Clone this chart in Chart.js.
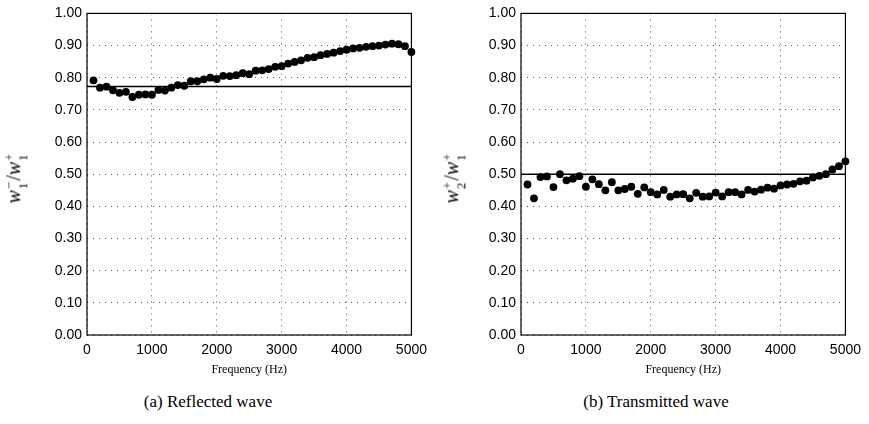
<!DOCTYPE html>
<html>
<head>
<meta charset="utf-8">
<script src="https://cdn.jsdelivr.net/npm/chart.js@4.4.0/dist/chart.umd.min.js"></script>
<style>
  body { margin: 0; background: #fff; width: 869px; height: 424px; position: relative; overflow: hidden; }
  .box { position: absolute; top: 0; width: 404px; height: 380px; }
  .ylab {
    position: absolute; top: 178px;
    font-family: "Liberation Serif", serif; font-size: 20px; color: #000;
    transform: translate(-50%, -50%) rotate(-90deg); white-space: nowrap;
  }
  .ylab i { font-style: italic; }
  .ss { display: inline-flex; flex-direction: column; vertical-align: middle; font-size: 13px; line-height: 1.05; margin: 0 1px; }
  .cap {
    position: absolute; top: 392px; transform: translateX(-50%);
    font-family: "Liberation Serif", serif; font-size: 17px; color: #000; white-space: nowrap;
  }
</style>
</head>
<body>
<div class="box" style="left:30px"><canvas id="chartA"></canvas></div>
<div class="box" style="left:464px"><canvas id="chartB"></canvas></div>

<div class="ylab" style="left:16px"><i>w</i><span class="ss"><span>&minus;</span><span>1</span></span>/<i>w</i><span class="ss"><span>+</span><span>1</span></span></div>
<div class="ylab" style="left:454px"><i>w</i><span class="ss"><span>+</span><span>2</span></span>/<i>w</i><span class="ss"><span>+</span><span>1</span></span></div>

<div class="cap" style="left:208px">(a) Reflected wave</div>
<div class="cap" style="left:656px">(b) Transmitted wave</div>

<script>
// Frequencies (Hz)
const freqs = [100, 200, 300, 400, 500, 600, 700, 800, 900, 1000,
  1100, 1200, 1300, 1400, 1500, 1600, 1700, 1800, 1900, 2000,
  2100, 2200, 2300, 2400, 2500, 2600, 2700, 2800, 2900, 3000,
  3100, 3200, 3300, 3400, 3500, 3600, 3700, 3800, 3900, 4000,
  4100, 4200, 4300, 4400, 4500, 4600, 4700, 4800, 4900, 5000];

// (a) reflected wave ratio
const reflected = [0.792, 0.769, 0.772, 0.761, 0.753, 0.756, 0.740, 0.747, 0.748, 0.747,
  0.762, 0.760, 0.769, 0.777, 0.775, 0.789, 0.789, 0.795, 0.800, 0.796,
  0.806, 0.805, 0.808, 0.814, 0.811, 0.822, 0.823, 0.827, 0.834, 0.836,
  0.844, 0.849, 0.854, 0.862, 0.864, 0.870, 0.874, 0.878, 0.883, 0.887,
  0.891, 0.893, 0.896, 0.898, 0.900, 0.903, 0.906, 0.904, 0.898, 0.880];

// (b) transmitted wave ratio
const transmitted = [0.468, 0.425, 0.491, 0.493, 0.460, 0.500, 0.481, 0.486, 0.494, 0.461,
  0.484, 0.469, 0.450, 0.475, 0.450, 0.454, 0.461, 0.439, 0.459, 0.444,
  0.437, 0.451, 0.430, 0.437, 0.438, 0.425, 0.442, 0.430, 0.431, 0.443,
  0.431, 0.444, 0.444, 0.437, 0.451, 0.446, 0.452, 0.458, 0.455, 0.465,
  0.468, 0.470, 0.478, 0.480, 0.490, 0.495, 0.500, 0.515, 0.525, 0.540];

// reference levels (solid horizontal lines)
const reflectedLevel = 0.773;
const transmittedLevel = 0.500;

const xTicks = [0, 1000, 2000, 3000, 4000, 5000];

Chart.defaults.font.family = "'Liberation Sans', Arial, sans-serif";
Chart.defaults.font.size = 14;
Chart.defaults.color = "#000";

// box around the plotting area
const frame = {
  id: "frame",
  beforeDatasetsDraw(chart) {
    const { ctx, chartArea: a } = chart;
    ctx.save();
    ctx.strokeStyle = "#000";
    ctx.lineWidth = 1.2;
    ctx.strokeRect(a.left, a.top, a.right - a.left, a.bottom - a.top);
    ctx.restore();
  }
};

function makeChart(id, values, level) {
  const ctx = document.getElementById(id).getContext("2d");
  return new Chart(ctx, {
    type: "scatter",
    data: {
      datasets: [
        {
          type: "line",
          data: [{ x: xTicks[0], y: level }, { x: xTicks[xTicks.length - 1], y: level }],
          borderColor: "#000",
          borderWidth: 1.5,
          pointRadius: 0,
          clip: false
        },
        {
          data: freqs.map((f, i) => ({ x: f, y: values[i] })),
          backgroundColor: "#000",
          borderColor: "#000",
          pointRadius: 3.9,
          pointBorderWidth: 0,
          clip: false
        }
      ]
    },
    options: {
      responsive: true,
      maintainAspectRatio: false,
      animation: false,
      layout: { padding: { top: 13, right: 12, bottom: 3, left: 0 } },
      plugins: { legend: { display: false }, tooltip: { enabled: false } },
      scales: {
        x: {
          type: "linear",
          min: 0,
          max: 5000,
          afterBuildTicks: s => { s.ticks = xTicks.map(v => ({ value: v })); },
          afterFit: s => { s.height = 42; },
          ticks: { padding: 7, maxRotation: 0, callback: v => String(v) },
          grid: { color: "#555", lineWidth: 1, drawTicks: false },
          border: { display: false, dash: [1, 5] },
          title: {
            display: true,
            text: "Frequency (Hz)",
            font: { family: "'Liberation Serif', serif", size: 12 },
            padding: { top: 1, bottom: 0 }
          }
        },
        y: {
          min: 0,
          max: 1,
          afterFit: s => { s.width = 57; },
          ticks: { stepSize: 0.1, padding: 5, callback: v => v.toFixed(2) },
          grid: { color: "#555", lineWidth: 1, drawTicks: false },
          border: { display: false, dash: [1, 5] }
        }
      }
    },
    plugins: [frame]
  });
}

makeChart("chartA", reflected, reflectedLevel);
makeChart("chartB", transmitted, transmittedLevel);
</script>
</body>
</html>
